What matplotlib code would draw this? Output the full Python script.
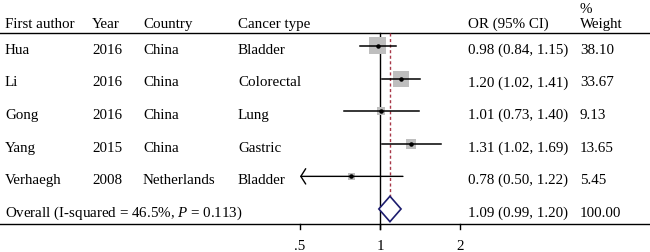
import numpy as np
import matplotlib.pyplot as plt
from matplotlib.patches import Polygon
from matplotlib.transforms import blended_transform_factory

# study data
authors = ['Hua', 'Li', 'Gong', 'Yang', 'Verhaegh']
years = ['2016', '2016', '2016', '2015', '2008']
countries = ['China', 'China', 'China', 'China', 'Netherlands']
cancers = ['Bladder', 'Colorectal', 'Lung', 'Gastric', 'Bladder']
odds = [0.98, 1.20, 1.01, 1.31, 0.78]
lower = [0.84, 1.02, 0.73, 1.02, 0.50]
upper = [1.15, 1.41, 1.40, 1.69, 1.22]
weights = [38.10, 33.67, 9.13, 13.65, 5.45]

overall_or = 1.09
overall_lo = 0.99
overall_hi = 1.20
overall_weight = 100.00
overall_label = 'Overall (I-squared = 46.5%, $\\mathit{P}$ = 0.113)'

headers = ['First author', 'Year', 'Country', 'Cancer type', 'OR (95% CI)', 'Weight']
ticks = [0.5, 1, 2]
tick_labels = ['.5', '1', '2']
clip_low = 0.5

plt.rcParams['font.family'] = 'Liberation Serif'
plt.rcParams['mathtext.fontset'] = 'custom'
plt.rcParams['mathtext.rm'] = 'Liberation Serif'
plt.rcParams['mathtext.it'] = 'Liberation Serif:italic'

fig = plt.figure(figsize=(6.5, 2.53), dpi=100)
ax = fig.add_axes([0, 0, 1, 1])
ax.set_xscale('log', base=2)
ax.set_xlim(2 ** -4.75, 2 ** 3.375)
ax.set_ylim(6.32, -1.44)
ax.axis('off')

trans = blended_transform_factory(ax.transAxes, ax.transData)
col_x = np.array([5, 92, 143, 238, 468, 580]) / 650
fs = 10.8
base = 0.21  # text baseline offset below row centre

header_y = -0.8
top_line = -0.4
axis_line = 5.46

# header
for x, h in zip(col_x, headers):
    ax.text(x, header_y + base, h, transform=trans, fontsize=fs, va='baseline')
ax.text(col_x[5], -1.05, '%', transform=trans, fontsize=fs, va='baseline')

ax.axhline(top_line, color='black', lw=1.0)
ax.axhline(axis_line, color='black', lw=1.0)

rows = np.arange(len(authors))

# reference lines
ax.plot([1, 1], [top_line, axis_line + 0.16], color='black', lw=1.0)
ax.plot([overall_or, overall_or], [top_line, len(authors) + 0.38],
        color='#a83848', lw=1.0, ls=(0, (2.2, 1.8)))

# study rows
for i in rows:
    vals = [authors[i], years[i], countries[i], cancers[i],
            f'{odds[i]:.2f} ({lower[i]:.2f}, {upper[i]:.2f})', f'{weights[i]:.2f}']
    for x, v in zip(col_x, vals):
        ax.text(x, i + base, v, transform=trans, fontsize=fs, va='baseline')

ax.scatter(odds, rows, marker='s', s=np.array(weights) * 3.9,
           color='#bebebe', linewidths=0, zorder=2)

for i in rows:
    if lower[i] <= clip_low:
        ax.annotate('', xy=(lower[i], i), xytext=(upper[i], i),
                    arrowprops=dict(arrowstyle='->,head_length=0.35,head_width=0.55',
                                    lw=1.0, color='black', shrinkA=0, shrinkB=0),
                    zorder=3)
    else:
        ax.plot([lower[i], upper[i]], [i, i], color='black', lw=1.1, zorder=3)

ax.scatter(odds, rows, marker='o', s=5, color='black', zorder=4)

# overall
oy = len(authors)
ax.text(col_x[0], oy + base, overall_label, transform=trans, fontsize=fs, va='baseline')
ax.text(col_x[4], oy + base, f'{overall_or:.2f} ({overall_lo:.2f}, {overall_hi:.2f})',
        transform=trans, fontsize=fs, va='baseline')
ax.text(col_x[5], oy + base, f'{overall_weight:.2f}', transform=trans,
        fontsize=fs, va='baseline')
diamond = Polygon([[overall_lo, oy], [overall_or, oy - 0.39],
                   [overall_hi, oy], [overall_or, oy + 0.39]],
                  closed=True, facecolor='white', edgecolor='#1c1c6e', lw=1.2, zorder=5)
ax.add_patch(diamond)

# x axis ticks
for t, lab in zip(ticks, tick_labels):
    ax.plot([t, t], [axis_line, axis_line + 0.16], color='black', lw=1.0)
    ax.text(t, 6.24, lab, fontsize=fs, ha='center', va='baseline')

fig.savefig('out.png', dpi=100)
